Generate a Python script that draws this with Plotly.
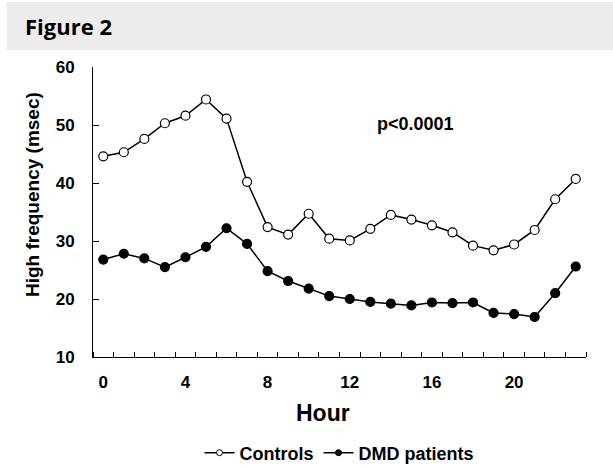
import plotly.graph_objects as go

hours = list(range(24))
controls = [44.6, 45.3, 47.6, 50.3, 51.6, 54.4, 51.1, 40.2, 32.4, 31.1, 34.7, 30.4,
            30.1, 32.1, 34.5, 33.7, 32.7, 31.5, 29.2, 28.4, 29.4, 31.9, 37.2, 40.7]
dmd = [26.8, 27.8, 27.0, 25.5, 27.2, 29.0, 32.2, 29.5, 24.8, 23.1, 21.8, 20.5,
       20.0, 19.5, 19.2, 18.9, 19.4, 19.3, 19.4, 17.6, 17.4, 16.9, 21.0, 25.6]
series_names = ["Controls", "DMD patients"]
x_tick_vals = [0, 4, 8, 12, 16, 20]
y_tick_vals = [10, 20, 30, 40, 50, 60]

FONT = "Liberation Sans"
fills = ["white", "black"]

fig = go.Figure()
for name, vals, fill in zip(series_names, [controls, dmd], fills):
    fig.add_trace(go.Scatter(
        x=hours, y=vals, name=name, mode="lines+markers", showlegend=False,
        line=dict(color="black", width=1.5),
        marker=dict(symbol="circle", size=9, color=fill, line=dict(color="black", width=1.2)),
    ))
# legend entries with smaller symbols
for name, fill in zip(series_names, fills):
    fig.add_trace(go.Scatter(
        x=[None], y=[None], name=name, mode="lines+markers", showlegend=True,
        line=dict(color="black", width=1.5),
        marker=dict(symbol="circle", size=6, color=fill, line=dict(color="black", width=1)),
    ))

fig.update_layout(
    width=613, height=469,
    margin=dict(l=93, r=27, t=67, b=112, autoexpand=False),
    paper_bgcolor="white", plot_bgcolor="white",
    font=dict(family=FONT, color="black"),
    showlegend=True,
    legend=dict(orientation="h", x=0.5, xanchor="center", y=-0.331, yanchor="middle",
                font=dict(family=FONT, size=18, weight="bold", color="black"),
                itemwidth=30, tracegroupgap=0, bgcolor="rgba(0,0,0,0)"),
    xaxis=dict(range=[-0.5, 23.5], showgrid=False, zeroline=False, automargin=False,
               showline=True, linecolor="black", linewidth=1,
               tickmode="array", tickvals=x_tick_vals, ticks="",
               ticklabelstandoff=10,
               tickfont=dict(family=FONT, size=17, weight="bold", color="black"),
               minor=dict(tickmode="linear", tick0=0.5, dtick=1, ticks="inside",
                          ticklen=5, tickwidth=1, tickcolor="black", showgrid=False)),
    yaxis=dict(range=[10, 60], showgrid=False, zeroline=False, automargin=False,
               showline=True, linecolor="black", linewidth=1,
               tickmode="array", tickvals=y_tick_vals, ticks="inside",
               ticklen=6, tickwidth=1, tickcolor="black",
               ticklabelstandoff=14,
               tickfont=dict(family=FONT, size=17, weight="bold", color="black")),
    shapes=[dict(type="rect", xref="paper", yref="paper",
                 x0=-0.1744, x1=1.06, y0=1.0586, y1=1.2241,
                 fillcolor="#ececec", line=dict(width=0), layer="below")],
    annotations=[
        dict(text="Figure 2", xref="paper", yref="paper", x=-0.142, y=1.1414,
             xanchor="left", yanchor="middle", showarrow=False,
             font=dict(family="Open Sans", size=22, weight="bold", color="black")),
        dict(text="High frequency (msec)", xref="paper", yref="paper",
             x=-0.1237, y=0.5586, xanchor="center", yanchor="middle",
             textangle=-90, showarrow=False,
             font=dict(family=FONT, size=19, weight="bold", color="black")),
        dict(text="Hour", xref="paper", yref="paper", x=0.4665, y=-0.193,
             xanchor="center", yanchor="middle", showarrow=False,
             font=dict(family=FONT, size=23, weight="bold", color="black")),
        dict(text="p<0.0001", xref="x", yref="y", x=15.2, y=50.2,
             xanchor="center", yanchor="middle", showarrow=False,
             font=dict(family=FONT, size=18, weight="bold", color="black")),
    ],
)

fig.write_html("out.html", config={"displayModeBar": False},
               post_script="document.body.style.margin='0px';document.body.style.padding='0px';")
